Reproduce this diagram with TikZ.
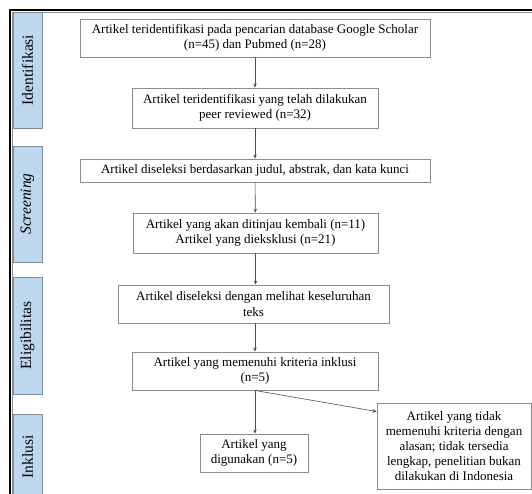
\documentclass[tikz,border=0pt]{standalone}
\usepackage{fontspec}
\setmainfont{Liberation Serif}
\usetikzlibrary{arrows.meta}

\definecolor{phasefill}{HTML}{BDD7EE}
\definecolor{phaseline}{HTML}{7F8C9C}
\definecolor{boxline}{HTML}{8C8C8C}

\begin{document}
\begin{tikzpicture}[x=1pt,y=-1pt,
    every node/.style={font=\fontsize{13}{15.5}\selectfont},
    stepbox/.style={draw=boxline,line width=0.9pt,align=center,inner sep=2pt},
    phase/.style={draw=phaseline,fill=phasefill,line width=0.9pt,minimum height=29pt,rotate=90,
      font=\fontsize{15.5}{18}\selectfont},
    link/.style={draw=black!70,line width=0.6pt,-{Stealth[length=4pt,width=3.5pt]}}]
    \useasboundingbox (0,0) rectangle (532,493);
    % frame
    \draw[line width=2.2pt] (10,600) -- (10,10) -- (540,10);
    \draw[black!45,line width=0.6pt] (11.8,600) -- (11.8,11.8) -- (540,11.8);
    % phases
    \coordinate (P1) at (27.5,70);
    \coordinate (P2) at (27.5,204);
    \coordinate (P3) at (27.5,335.5);
    \coordinate (P4) at (27.5,457);
    \node[phase,minimum width=116pt] (ident) at (P1) {Identifikasi};
    \node[phase,minimum width=116pt] (screen) at (P2) {\textit{Screening}};
    \node[phase,minimum width=117pt] (elig) at (P3) {Eligibilitas};
    \node[phase,minimum width=86pt] (inkl) at (P4) {Inklusi};
    % steps
    \coordinate (S1) at (255,38);
    \coordinate (S2) at (255,108);
    \coordinate (S3) at (255,170.5);
    \coordinate (S4) at (255.5,233);
    \coordinate (S5) at (253.5,304);
    \coordinate (S6) at (255,371);
    \coordinate (S7) at (254,453);
    \coordinate (S8) at (454,446);
    \node[stepbox,minimum width=350pt,minimum height=38pt] (cari) at (S1)
      {Artikel teridentifikasi pada pencarian database Google Scholar\\(n=45) dan Pubmed (n=28)};
    \node[stepbox,minimum width=246pt,minimum height=40pt] (peer) at (S2)
      {Artikel teridentifikasi yang telah dilakukan\\peer reviewed (n=32)};
    \node[stepbox,minimum width=350pt,minimum height=23pt] (judul) at (S3)
      {Artikel diseleksi berdasarkan judul, abstrak, dan kata kunci};
    \node[stepbox,minimum width=245pt,minimum height=40pt] (tinjau) at (S4)
      {Artikel yang akan ditinjau kembali (n=11)\\Artikel yang dieksklusi (n=21)};
    \node[stepbox,minimum width=271pt,minimum height=38pt] (teks) at (S5)
      {Artikel diseleksi dengan melihat keseluruhan\\teks};
    \node[stepbox,minimum width=246pt,minimum height=38pt] (kriteria) at (S6)
      {Artikel yang memenuhi kriteria inklusi\\(n=5)};
    \node[stepbox,minimum width=108pt,minimum height=38pt] (pakai) at (S7)
      {Artikel yang\\digunakan (n=5)};
    \node[stepbox,minimum width=154pt,minimum height=86pt,font=\fontsize{13}{15}\selectfont] (tolak) at (S8)
      {Artikel yang tidak\\memenuhi kriteria dengan\\alasan; tidak tersedia\\lengkap, penelitian bukan\\dilakukan di Indonesia};
    % arrows
    \draw[link] (cari) -- (peer);
    \draw[link] (peer) -- (judul);
    \draw[link] (judul) -- (tinjau);
    \draw[link] (tinjau) -- (teks.north -| tinjau);
    \draw[link] (teks.south -| kriteria) -- (kriteria);
    \draw[link] (kriteria) -- (pakai.north -| kriteria);
    \draw[link] (kriteria.south) -- (tolak.156);
\end{tikzpicture}
\end{document}
